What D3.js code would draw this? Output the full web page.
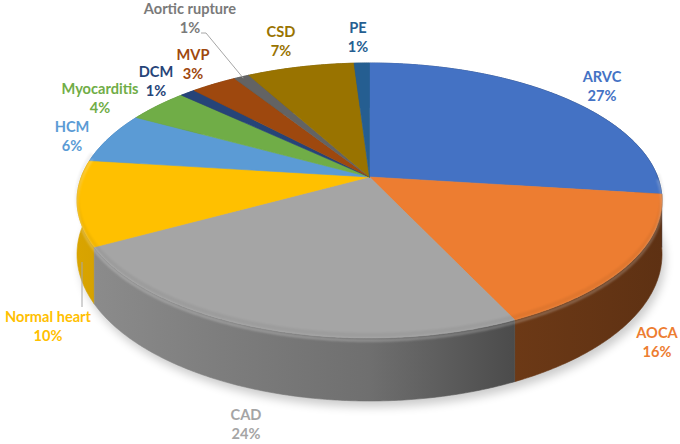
<!DOCTYPE html>
<html><head><meta charset="utf-8">
<script src="https://cdn.jsdelivr.net/npm/d3@7"></script>
<style>body{margin:0;background:#fff} svg{display:block}</style>
</head><body><svg id="c" width="680" height="444"></svg>
<script>
// ---- data ----
const categories = ["ARVC","AOCA","CAD","Normal heart","HCM","Myocarditis","DCM","MVP","Aortic rupture","CSD","PE"];
const values = [27,16,24,10,6,4,1,3,1,7,1];
const colors = ["#4472C4","#ED7D31","#A5A5A5","#FFC000","#5B9BD5","#70AD47","#264478","#9E480E","#636363","#997300","#255E91"];
const labelColors = ["#4472C4","#ED7D31","#A5A5A5","#FFC000","#5B9BD5","#70AD47","#264478","#9E480E","#7a7a7a","#997300","#255E91"];

// ---- layout (label text positions: centre x, centre y of first line) ----
const labelLayout = {
  "ARVC":[602,77], "AOCA":[657,333], "CAD":[246,415], "Normal heart":[48,317],
  "HCM":[72,127], "Myocarditis":[100,89], "DCM":[156,72], "MVP":[193,55],
  "Aortic rupture":[190,9], "CSD":[281,32], "PE":[358,28]
};
const leaderLayout = {
  "Aortic rupture": {from:[[201,33],[206,33]], r:0.985},
  "Normal heart": {from:[[82,307]], to:[82,262]}
};

const CX=369.5, CY=200.5, RX=292.5, RY=137.5, BETA=0.171, DEPTH=53;
const GAMMA=1/Math.sqrt(1-BETA*BETA);

// perspective projection of a point on the pie's top disc (angle clockwise from 12 o'clock)
function proj(a, r=1){
  const ux=r*Math.sin(a), uy=-r*Math.cos(a);
  const par=-uy;
  const np=GAMMA*(par+BETA);
  const z=GAMMA*(BETA*par+1);
  return [CX+RX*ux/z, CY-RY*np/z, z];
}
function arcPts(a0,a1,r=1){
  const n=Math.max(2,Math.ceil((a1-a0)/(Math.PI/360)));
  const pts=[];
  for(let k=0;k<=n;k++) pts.push(proj(a0+(a1-a0)*k/n, r));
  return pts;
}
const down = p => [p[0], p[1]+DEPTH/p[2]];

const svg=d3.select("#c");
const defs=svg.append("defs");
const blur=defs.append("filter").attr("id","shadow").attr("x","-20%").attr("y","-20%").attr("width","140%").attr("height","140%");
blur.append("feGaussianBlur").attr("stdDeviation",5);
const blur2=defs.append("filter").attr("id","soft");
blur2.append("feGaussianBlur").attr("stdDeviation",1.1);

const data=categories.map((c,i)=>({name:c,v:values[i],color:colors[i],lc:labelColors[i],i}));
const pie=d3.pie().sort(null).value(d=>d.v).startAngle(0).endAngle(2*Math.PI);
const arcs=pie(data);
const line=d3.line();

// shadow
const full=arcPts(0,2*Math.PI).map(down);
svg.append("path").attr("d",line(full)+"Z").attr("fill","#000").attr("opacity",0.2)
  .attr("transform","translate(3,6)").attr("filter","url(#shadow)");

// side gradients
const shade=d3.scaleLinear().domain([0,0.5,0.75,1]).range([0.45,1.1,2.2,2.6]);
arcs.forEach(a=>{
  const g=defs.append("linearGradient").attr("id","sg"+a.data.i).attr("gradientUnits","userSpaceOnUse")
    .attr("x1",CX-RX).attr("x2",CX+RX).attr("y1",0).attr("y2",0);
  [0,0.25,0.5,0.75,1].forEach(o=>{
    g.append("stop").attr("offset",o).attr("stop-color",d3.color(a.data.color).darker(shade(o)).formatHex());
  });
});

// sides, back to front
const sides=arcs.slice().sort((p,q)=>(-Math.cos((p.startAngle+p.endAngle)/2))-(-Math.cos((q.startAngle+q.endAngle)/2)));
const gSide=svg.append("g");
sides.forEach(a=>{
  const top=arcPts(a.startAngle,a.endAngle);
  const bot=top.map(down).reverse();
  gSide.append("path").attr("d",line(top.concat(bot).map(p=>[p[0],p[1]]))+"Z")
    .attr("fill","url(#sg"+a.data.i+")").attr("stroke","url(#sg"+a.data.i+")").attr("stroke-width",0.6);
});

// top faces
const apex=proj(0,0);
const gTop=svg.append("g");
arcs.forEach(a=>{
  const pts=[[apex[0],apex[1]]].concat(arcPts(a.startAngle,a.endAngle).map(p=>[p[0],p[1]]));
  gTop.append("path").attr("d",line(pts)+"Z").attr("fill",a.data.color)
    .attr("stroke",a.data.color).attr("stroke-width",0.6).attr("stroke-linejoin","round");
});

// bevel highlight on front rim
const rim=arcPts(Math.PI*0.5,Math.PI*1.55).map(p=>[p[0],p[1]+2.5]);
svg.append("path").attr("d",line(rim)).attr("fill","none").attr("stroke","#fff")
  .attr("stroke-width",2.5).attr("opacity",0.25).attr("filter","url(#soft)");
const rim2=arcPts(Math.PI*0.5,Math.PI*1.55).map(p=>[p[0],p[1]-3]);
svg.append("path").attr("d",line(rim2)).attr("fill","none").attr("stroke","#000")
  .attr("stroke-width",4).attr("opacity",0.05).attr("filter","url(#soft)");

// leader lines
arcs.forEach(a=>{
  const L=leaderLayout[a.data.name]; if(!L) return;
  let end;
  if(L.to) end=L.to; else { const p=proj((a.startAngle+a.endAngle)/2,L.r); end=[p[0],p[1]]; }
  svg.append("path").attr("d",line(L.from.concat([end]))).attr("fill","none")
    .attr("stroke","#a6a6a6").attr("stroke-width",1);
});

// labels
const gLab=svg.append("g").attr("font-family","Lato, 'Open Sans', sans-serif").attr("font-weight","bold")
  .attr("font-size",14.6).attr("text-anchor","middle");
arcs.forEach(a=>{
  const [x,y]=labelLayout[a.data.name];
  const t=gLab.append("text").attr("fill",a.data.lc);
  t.append("tspan").attr("x",x).attr("y",y+5).text(a.data.name);
  t.append("tspan").attr("x",x).attr("y",y+24).text(a.data.v+"%");
});
</script></body></html>
